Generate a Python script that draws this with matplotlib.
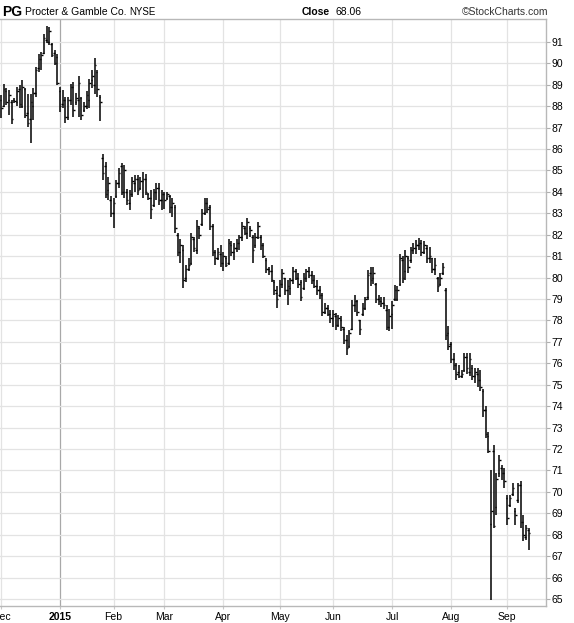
import numpy as np
import pandas as pd
import matplotlib
matplotlib.use("Agg")
import matplotlib.pyplot as plt

plt.rcParams["font.family"] = ["Liberation Sans", "DejaVu Sans"]

# trading days Dec 1 2014 .. Sep 14 2015 (NYSE holidays removed)
HOLIDAYS = ["2014-12-25", "2015-01-01", "2015-01-19", "2015-02-16",
            "2015-04-03", "2015-05-25", "2015-07-03", "2015-09-07"]
dates = pd.bdate_range("2014-12-01", "2015-09-14")
dates = dates[~dates.isin(pd.to_datetime(HOLIDAYS))]

# daily bars
opens = [
    # Dec
    88.3, 88.0, 88.7, 88.3, 88.2, 88.3, 88.2, 88.8, 88.0, 88.8, 87.7, 87.4, 88.0, 88.6,
    89.8, 90.2, 90.5, 91.1, 91.0, 90.9, 90.5, 90.3,
    # Jan
    88.7, 88.1, 88.3, 87.5, 88.3, 88.9, 88.2, 88.3, 88.4, 87.8, 88.0, 88.3, 89.2, 89.0,
    89.6, 88.45, 85.6, 85.2, 84.1, 83.6,
    # Feb
    83.0, 83.8, 84.4, 85.2, 84.0, 84.0, 83.5, 83.9, 84.4, 84.6, 84.2, 84.5, 84.6, 83.9,
    83.7, 83.4, 84.0, 84.2, 83.6,
    # Mar
    83.9, 83.7, 83.8, 83.3, 83.3, 82.0, 81.2, 81.3, 80.0, 80.4, 80.7, 81.8, 81.3, 82.3,
    82.5, 83.0, 83.5, 83.3, 82.4, 81.2, 80.9, 81.1,
    # Apr
    80.7, 80.9, 80.7, 81.5, 81.2, 81.4, 81.6, 81.9, 82.3, 82.1, 82.3, 81.9, 81.5, 81.9,
    81.9, 81.5, 80.8, 80.4, 80.3, 79.8, 79.3,
    # May
    79.2, 79.7, 80.0, 79.4, 79.5, 79.9, 80.3, 80.0, 79.8, 79.5, 80.0, 80.3, 80.1, 79.9,
    79.6, 79.4, 79.2, 78.4, 78.6, 78.3,
    # Jun
    78.1, 78.2, 77.8, 78.0, 77.6, 77.1, 76.8, 77.6, 78.7, 78.9, 78.0, 78.3, 78.6, 79.1,
    80.2, 80.0, 79.7, 79.0, 78.9, 78.8, 78.5, 77.7,
    # Jul
    78.3, 79.0, 79.0, 79.7, 80.8, 80.3, 80.9, 80.8, 81.3, 81.4, 81.5, 81.6, 81.2, 81.4,
    80.9, 80.9, 80.4, 80.0, 79.7, 80.2, 79.4, 77.4,
    # Aug
    76.9, 76.2, 75.9, 75.6, 75.4, 75.7, 76.3, 75.6, 75.8, 75.4, 75.5, 75.2, 74.7, 73.8,
    72.6, 68.5, 71.9, 69.3, 70.9, 71.1, 70.9,
    # Sep
    69.7, 69.4, 69.9, 69.1, 69.6, 70.3, 68.6, 67.9, 68.2,
]
highs = [
    88.5, 89.05, 88.85, 88.75, 88.3, 88.4, 88.9, 89.0, 89.2, 88.85, 88.55, 88.55, 88.85, 89.85,
    90.45, 90.55, 91.35, 91.75, 91.7, 90.95, 90.6, 90.45,
    88.9, 88.75, 88.45, 88.45, 89.05, 89.15, 88.6, 89.4, 88.45, 88.2, 88.7, 89.25, 89.7, 90.25,
    89.7, 88.5, 85.75, 85.4, 84.7, 83.8,
    83.7, 84.55, 85.1, 85.35, 85.25, 84.15, 84.1, 84.7, 84.8, 84.8, 84.7, 84.95, 84.85, 83.95,
    84.1, 84.15, 84.4, 84.4, 84.1,
    84.0, 84.0, 83.85, 83.7, 83.4, 82.1, 81.8, 81.5, 80.6, 80.9, 82.1, 81.9, 82.7, 82.4,
    83.2, 83.7, 83.7, 83.4, 82.5, 81.3, 81.4, 81.5,
    81.2, 81.0, 81.8, 81.7, 81.6, 81.8, 82.0, 82.6, 82.4, 82.8, 82.4, 82.0, 82.1, 82.6,
    82.0, 81.6, 80.9, 80.5, 80.6, 79.9, 79.6,
    79.9, 80.4, 80.0, 79.9, 80.0, 80.5, 80.4, 80.2, 79.9, 80.2, 80.4, 80.5, 80.3, 80.1,
    79.9, 79.6, 79.3, 78.8, 78.7, 78.5,
    78.5, 78.35, 78.25, 78.2, 77.7, 77.3, 77.55, 78.95, 79.2, 78.95, 78.0, 78.8, 79.1, 80.35,
    80.5, 80.5, 79.75, 79.2, 79.1, 79.1, 78.7, 78.55,
    78.9, 79.65, 79.6, 81.1, 81.0, 81.3, 81.0, 81.45, 81.6, 81.75, 81.85, 81.75, 81.7, 81.5,
    81.45, 80.9, 80.9, 80.05, 80.2, 80.7, 79.5, 77.75,
    77.0, 76.5, 76.0, 75.9, 75.7, 76.5, 76.5, 76.5, 75.9, 75.8, 75.8, 75.7, 74.8, 74.0,
    72.8, 71.0, 72.2, 70.9, 71.7, 71.25, 71.1,
    69.85, 69.85, 70.4, 69.25, 70.4, 70.5, 68.9, 68.45, 68.3,
]
lows = [
    87.45, 87.95, 88.05, 87.6, 87.15, 88.15, 88.0, 87.9, 87.9, 87.45, 87.05, 86.3, 87.35, 88.45,
    89.6, 89.7, 90.45, 90.95, 90.85, 90.3, 89.9, 89.0,
    87.75, 87.9, 87.2, 87.35, 88.05, 87.5, 88.05, 87.5, 87.35, 87.75, 87.85, 87.9, 88.85, 88.55,
    88.45, 87.3, 84.55, 83.7, 83.6, 82.85,
    82.3, 83.7, 84.2, 83.85, 83.7, 83.4, 83.15, 83.75, 84.0, 83.85, 84.1, 83.7, 83.85, 83.6,
    82.75, 83.3, 83.6, 83.4, 83.15,
    83.2, 83.6, 83.0, 82.85, 82.1, 81.0, 80.7, 79.5, 79.8, 80.3, 80.6, 81.2, 81.1, 81.8,
    82.4, 82.9, 83.0, 82.2, 81.0, 80.6, 80.8, 80.5,
    80.3, 80.5, 80.6, 81.0, 80.8, 81.2, 81.3, 81.7, 82.0, 81.8, 81.9, 80.7, 81.4, 81.8,
    81.3, 80.9, 80.2, 80.1, 79.8, 79.2, 78.6,
    79.1, 79.5, 79.2, 78.7, 79.2, 79.7, 79.9, 79.5, 78.9, 79.4, 79.8, 80.0, 79.7, 79.5,
    79.2, 79.0, 78.2, 78.3, 78.2, 77.9,
    77.7, 77.55, 77.7, 77.5, 76.9, 76.4, 76.7, 77.55, 78.4, 78.2, 77.3, 78.2, 78.5, 78.95,
    79.6, 79.7, 78.8, 78.7, 78.65, 78.55, 77.55, 77.5,
    77.6, 78.9, 78.9, 79.6, 79.75, 79.9, 80.2, 80.7, 81.1, 81.1, 81.3, 81.0, 81.1, 80.7,
    80.7, 80.2, 80.1, 79.35, 79.6, 80.1, 77.1, 76.6,
    76.0, 75.7, 75.2, 75.3, 75.3, 75.6, 75.5, 75.4, 75.2, 75.1, 74.9, 74.7, 73.5, 72.5,
    71.8, 64.95, 68.3, 68.9, 70.7, 70.55, 70.2,
    68.45, 69.3, 69.8, 68.45, 69.5, 68.3, 67.7, 67.75, 67.3,
]
closes = [
    87.9, 88.8, 88.2, 88.5, 87.4, 88.25, 88.7, 88.1, 88.9, 87.6, 87.2, 88.2, 88.6, 89.7,
    90.2, 90.4, 91.2, 91.0, 91.5, 90.4, 90.0, 89.1,
    88.0, 88.3, 87.5, 88.3, 88.9, 87.8, 88.4, 89.1, 87.6, 88.0, 88.5, 89.1, 89.4, 89.9,
    88.8, 88.2, 84.9, 83.9, 84.4, 83.0,
    83.5, 84.4, 84.9, 84.0, 85.0, 83.6, 83.9, 84.5, 84.6, 84.1, 84.5, 84.6, 84.0, 83.7,
    83.2, 84.0, 84.2, 83.6, 83.9,
    83.6, 83.9, 83.3, 83.5, 82.3, 81.2, 81.5, 79.9, 80.4, 80.6, 81.9, 81.4, 82.4, 82.0,
    83.0, 83.5, 83.2, 82.4, 81.2, 80.9, 81.2, 80.7,
    81.0, 80.6, 81.6, 81.2, 81.4, 81.6, 81.9, 82.4, 82.1, 82.6, 82.2, 81.3, 81.9, 82.4,
    81.5, 81.0, 80.4, 80.3, 79.9, 79.4, 79.0,
    79.7, 80.2, 79.4, 79.6, 79.9, 80.3, 80.0, 79.7, 79.1, 80.0, 80.3, 80.1, 79.9, 79.6,
    79.4, 79.2, 78.4, 78.6, 78.3, 78.1,
    78.3, 77.8, 78.1, 77.7, 77.1, 76.7, 77.4, 78.7, 78.9, 78.4, 77.6, 78.6, 79.0, 80.1,
    79.9, 80.2, 79.0, 78.9, 78.8, 78.7, 77.7, 78.2,
    78.7, 79.4, 79.4, 80.9, 80.0, 81.0, 80.5, 81.3, 81.4, 81.5, 81.6, 81.2, 81.5, 80.9,
    81.0, 80.4, 80.6, 79.6, 80.0, 80.5, 77.3, 76.8,
    76.2, 75.9, 75.5, 75.4, 75.5, 76.3, 75.8, 76.2, 75.4, 75.6, 75.2, 74.9, 73.8, 72.7,
    71.9, 69.1, 68.4, 70.6, 71.5, 70.9, 70.5,
    68.8, 69.7, 70.2, 68.9, 70.3, 68.6, 68.0, 68.3, 68.06,
]

MONTH_STARTS = ["2014-12-01", "2015-01-02", "2015-02-02", "2015-03-02", "2015-04-01",
                "2015-05-01", "2015-06-01", "2015-07-01", "2015-08-03", "2015-09-01"]
MONTH_LABELS = ["Dec", "2015", "Feb", "Mar", "Apr", "May", "Jun", "Jul", "Aug", "Sep"]
Y_TICKS = list(range(65, 92))

W, H = 574, 623
fig = plt.figure(figsize=(W / 100, H / 100), dpi=100)
ax = fig.add_axes([0 / W, 1 - 606 / H, 546 / W, 587 / H])

x = np.arange(len(dates))
tick = 0.55
ax.vlines(x, lows, highs, color="black", lw=1.1)
ax.hlines(opens, x - tick, x, color="black", lw=1.0)
ax.hlines(closes, x, x + tick, color="black", lw=1.0)

month_pos = [dates.get_loc(pd.Timestamp(d)) for d in MONTH_STARTS]
for p, lab in zip(month_pos, MONTH_LABELS):
    ax.axvline(p, color="#a8a8a8" if lab == "2015" else "#e3e3e3", lw=0.9, zorder=0)
for v in Y_TICKS:
    ax.axhline(v, color="#e3e3e3", lw=0.9, zorder=0)

ax.set_xlim(-0.4, 203.5)
ax.set_ylim(64.67, 92.07)

ax.yaxis.tick_right()
ax.set_yticks(Y_TICKS)
ax.set_yticklabels([str(v) for v in Y_TICKS], fontsize=7.5)
ax.tick_params(axis="y", length=3, width=0.8, color="#b0b0b0", pad=1)

ax.set_xticks(month_pos)
ax.set_xticklabels(MONTH_LABELS, fontsize=7.5)
ax.tick_params(axis="x", length=2, width=0.8, color="#c8c8c8", pad=2)
for lab in ax.get_xticklabels():
    if lab.get_text() == "2015":
        lab.set_fontweight("bold")

for s in ["top", "right", "bottom"]:
    ax.spines[s].set_color("#b8b8b8")
    ax.spines[s].set_linewidth(1.0)
ax.spines["left"].set_visible(False)

# header
ty = 1 - 12 / H
fig.text(2 / W, ty, "PG", fontsize=10, fontweight="bold", va="center", ha="left")
fig.text(25 / W, ty, "Procter & Gamble Co.", fontsize=7.5, va="center", ha="left")
fig.text(129 / W, ty, "NYSE", fontsize=7, va="center", ha="left")
fig.text(302 / W, ty, "Close", fontsize=7.5, fontweight="bold", va="center", ha="left")
fig.text(336 / W, ty, "68.06", fontsize=7.5, va="center", ha="left")
fig.text(548 / W, ty, "\u00a9StockCharts.com", fontsize=7.5, va="center", ha="right",
         color="#333333")

fig.savefig("out.png", dpi=100)
